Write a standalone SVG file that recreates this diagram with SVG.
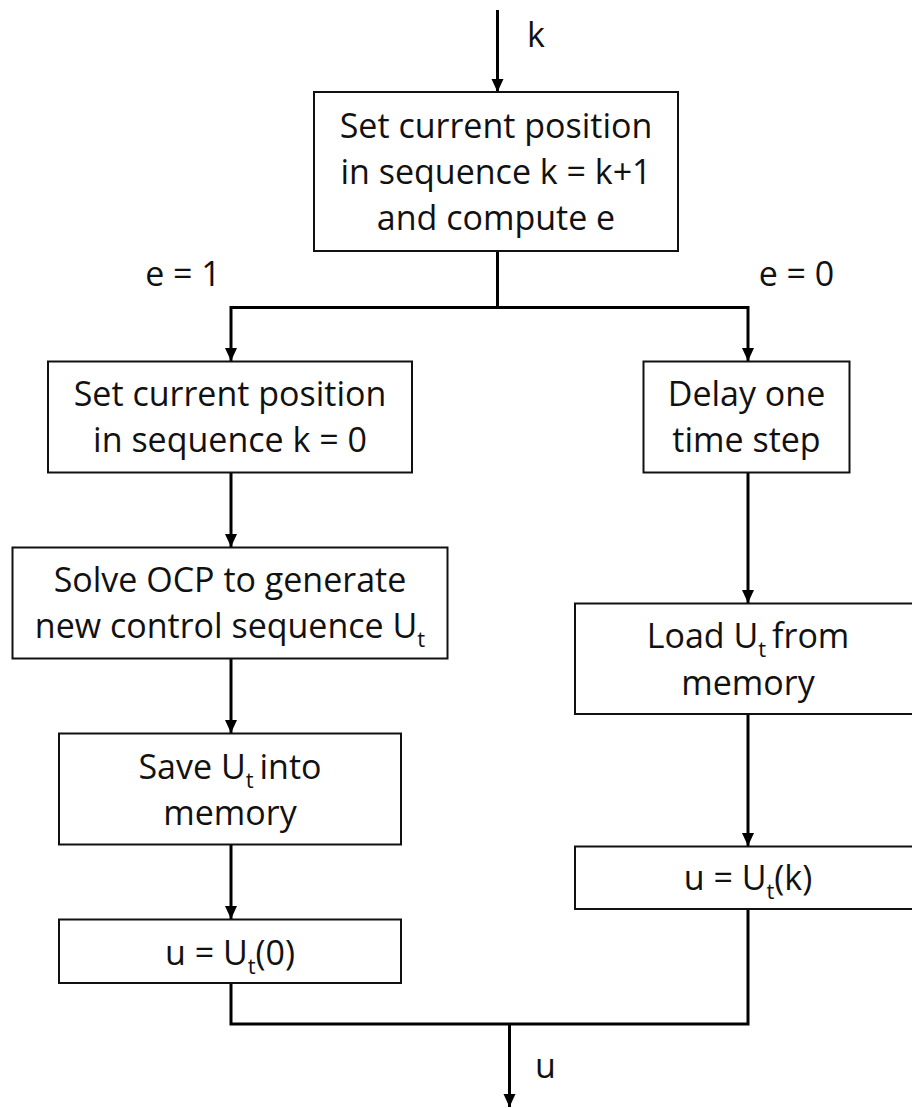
<svg xmlns="http://www.w3.org/2000/svg" width="912" height="1108" viewBox="0 0 912 1108">
<style>
.box{fill:#fff;stroke:#111;stroke-width:2}
.t{font-family:"Open Sans","Liberation Sans",sans-serif;font-size:34px;fill:#111;text-anchor:middle}
.lbl{font-family:"Open Sans","Liberation Sans",sans-serif;font-size:34px;fill:#111}
.sub{font-size:22px}
.c{fill:none;stroke:#000;stroke-width:3}
</style>
<defs>
<marker id="ah" markerUnits="userSpaceOnUse" markerWidth="14" markerHeight="14" viewBox="0 0 14 14" refX="13" refY="7" orient="auto">
<path d="M0,1 L13,7 L0,13 Z" fill="#000"/>
</marker>
</defs>
<rect width="912" height="1108" fill="#fff"/>
<g id="connectors">
<path class="c" d="M497.5,10 V92" marker-end="url(#ah)"/>
<path class="c" d="M497.5,251 V307.5"/>
<path class="c" d="M231,307.5 H748"/>
<path class="c" d="M231,306 V361" marker-end="url(#ah)"/>
<path class="c" d="M748,306 V361" marker-end="url(#ah)"/>
<path class="c" d="M231,473 V547" marker-end="url(#ah)"/>
<path class="c" d="M231,658 V733" marker-end="url(#ah)"/>
<path class="c" d="M231,844 V919" marker-end="url(#ah)"/>
<path class="c" d="M748,473 V603" marker-end="url(#ah)"/>
<path class="c" d="M748,714 V846" marker-end="url(#ah)"/>
<path class="c" d="M231,983 V1024 H748 V909"/>
<path class="c" d="M509.5,1024 V1107" marker-end="url(#ah)"/>
<text class="lbl" x="527" y="47">k</text>
<text class="t" x="183" y="286">e = 1</text>
<text class="t" x="796.5" y="286">e = 0</text>
<text class="lbl" x="535" y="1078">u</text>
</g>
<g id="n1">
<rect class="box" x="314" y="92" width="364" height="159"/>
<text class="t" x="496" y="138">Set current position</text>
<text class="t" x="496" y="184">in sequence k = k+1</text>
<text class="t" x="496" y="230">and compute e</text>
</g>
<g id="n2">
<rect class="box" x="48" y="361.5" width="364" height="111"/>
<text class="t" x="230" y="405.7">Set current position</text>
<text class="t" x="230" y="452.3">in sequence k = 0</text>
</g>
<g id="n3">
<rect class="box" x="12.5" y="547.5" width="435" height="111"/>
<text class="t" x="230" y="591.7">Solve OCP to generate</text>
<text class="t" x="230" y="637.7">new control sequence U<tspan class="sub" dy="9">t</tspan></text>
</g>
<g id="n4">
<rect class="box" x="59" y="733.5" width="342" height="111"/>
<text class="t" x="230" y="779">Save U<tspan class="sub" dy="9">t</tspan><tspan dx="6" dy="-9">into</tspan></text>
<text class="t" x="230" y="825">memory</text>
</g>
<g id="n5">
<rect class="box" x="59" y="919.5" width="342" height="63.5"/>
<text class="t" x="230" y="965">u = U<tspan class="sub" dy="9">t</tspan><tspan dy="-9">(0)</tspan></text>
</g>
<g id="n6">
<rect class="box" x="643.5" y="361.5" width="206" height="111"/>
<text class="t" x="746.5" y="405.7">Delay one</text>
<text class="t" x="746.5" y="452.3">time step</text>
</g>
<g id="n7">
<rect class="box" x="575" y="603.5" width="346" height="110.5"/>
<text class="t" x="748" y="648.3">Load U<tspan class="sub" dy="9">t</tspan><tspan dx="6" dy="-9">from</tspan></text>
<text class="t" x="748" y="695">memory</text>
</g>
<g id="n8">
<rect class="box" x="575" y="846.5" width="346" height="62.5"/>
<text class="t" x="748" y="890">u = U<tspan class="sub" dy="9">t</tspan><tspan dy="-9">(k)</tspan></text>
</g>
</svg>
